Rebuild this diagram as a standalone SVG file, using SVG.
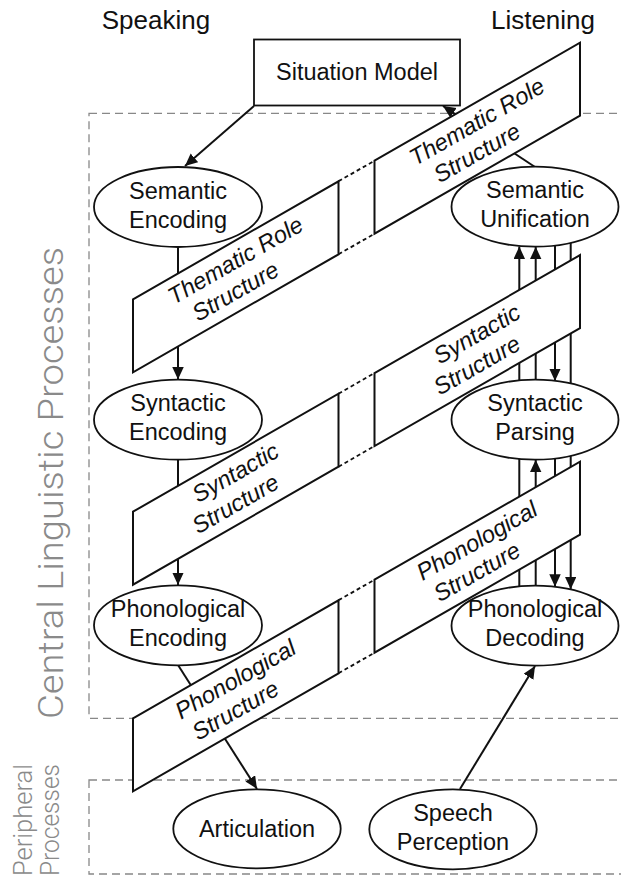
<svg xmlns="http://www.w3.org/2000/svg" width="621" height="880" viewBox="0 0 621 880">
<style>
.box{fill:none;stroke:#888;stroke-width:1.3;stroke-dasharray:8 5}
.side{font-family:Roboto,"Liberation Sans",Arial,sans-serif;font-weight:300;fill:#8a8a8a;text-anchor:middle}
.hdr{font-family:"Liberation Sans",Arial,sans-serif;font-size:26px;fill:#111}
.lbl{font-family:"Liberation Sans",Arial,sans-serif;font-size:23.5px;fill:#111;text-anchor:middle}
.blbl{font-family:"Liberation Sans",Arial,sans-serif;font-size:23.5px;font-style:italic;fill:#111;text-anchor:middle}
.node{fill:#fff;stroke:#111;stroke-width:1.8}
.band{fill:#fff;stroke:#111;stroke-width:2}
.gap{stroke:#111;stroke-width:1.8;stroke-dasharray:4 3;fill:none}
.arr{stroke:#111;stroke-width:2;fill:none;marker-end:url(#ah)}
</style>
<defs>
<marker id="ah" markerUnits="userSpaceOnUse" markerWidth="14" markerHeight="12" refX="12.5" refY="5.75" orient="auto">
<path d="M0,0 L12.5,5.75 L0,11.5 z" fill="#111"/>
</marker>
</defs>
<g id="regions">
<rect class="box" x="89" y="113.3" width="560" height="605"/>
<rect class="box" x="89" y="780" width="560" height="94"/>
<text class="side" font-size="35" textLength="472" lengthAdjust="spacingAndGlyphs" transform="translate(63,483) rotate(-90)">Central Linguistic Processes</text>
<text class="side" font-size="26" textLength="112" lengthAdjust="spacingAndGlyphs" transform="translate(32,820) rotate(-90)">Peripheral</text>
<text class="side" font-size="26" textLength="112" lengthAdjust="spacingAndGlyphs" transform="translate(59,820) rotate(-90)">Processes</text>
</g>
<g id="headers">
<text class="hdr" x="156" y="29" text-anchor="middle">Speaking</text>
<text class="hdr" x="543" y="29" text-anchor="middle">Listening</text>
</g>
<g id="connectors">
<line class="arr" x1="254" y1="106" x2="185" y2="166"/>
<line class="arr" x1="535" y1="167" x2="443" y2="106"/>
<line class="arr" x1="178" y1="247" x2="178" y2="379.5"/>
<line class="arr" x1="178" y1="460" x2="178" y2="585"/>
<line class="arr" x1="178" y1="665" x2="257" y2="789"/>
<line class="arr" x1="460" y1="789" x2="535" y2="666"/>
<line class="arr" x1="519.3" y1="586" x2="519.3" y2="246.5"/>
<line class="arr" x1="535.7" y1="586" x2="535.7" y2="459.7"/>
<line class="arr" x1="535.7" y1="380" x2="535.7" y2="246.7"/>
<line class="arr" x1="555" y1="245.5" x2="555" y2="381"/>
<line class="arr" x1="555" y1="458.5" x2="555" y2="586.7"/>
<line class="arr" x1="570.7" y1="243" x2="570.7" y2="589.3"/>
</g>
<g id="band-thematic">
<polygon class="band" points="133,299.3 338.5,181.3 338.5,254.3 133,372.3"/>
<polygon class="band" points="374.5,160.7 580,42.7 580,115.7 374.5,233.7"/>
<path class="gap" d="M338.5,181.3 L374.5,160.7 M338.5,254.3 L374.5,233.7"/>
<text class="blbl" transform="translate(235.75,276.8) rotate(-29.86)"><tspan x="8" y="-6.5">Thematic Role</tspan><tspan x="-7.5" y="20.5">Structure</tspan></text>
<text class="blbl" transform="translate(477.25,138.2) rotate(-29.86)"><tspan x="8" y="-6.5">Thematic Role</tspan><tspan x="-7.5" y="20.5">Structure</tspan></text>
</g>
<g id="band-syntactic">
<polygon class="band" points="133,511.7 338.5,393.7 338.5,466.7 133,584.7"/>
<polygon class="band" points="374.5,373.1 580,255.1 580,328.1 374.5,446.1"/>
<path class="gap" d="M338.5,393.7 L374.5,373.1 M338.5,466.7 L374.5,446.1"/>
<text class="blbl" transform="translate(235.75,489.2) rotate(-29.86)"><tspan x="8" y="-6.5">Syntactic</tspan><tspan x="-7.5" y="20.5">Structure</tspan></text>
<text class="blbl" transform="translate(477.25,350.6) rotate(-29.86)"><tspan x="8" y="-6.5">Syntactic</tspan><tspan x="-7.5" y="20.5">Structure</tspan></text>
</g>
<g id="band-phonological">
<polygon class="band" points="133,718.3 338.5,600.3 338.5,673.3 133,791.3"/>
<polygon class="band" points="374.5,579.7 580,461.7 580,534.7 374.5,652.7"/>
<path class="gap" d="M338.5,600.3 L374.5,579.7 M338.5,673.3 L374.5,652.7"/>
<text class="blbl" transform="translate(235.75,695.8) rotate(-29.86)"><tspan x="8" y="-6.5">Phonological</tspan><tspan x="-7.5" y="20.5">Structure</tspan></text>
<text class="blbl" transform="translate(477.25,557.2) rotate(-29.86)"><tspan x="8" y="-6.5">Phonological</tspan><tspan x="-7.5" y="20.5">Structure</tspan></text>
</g>
<g id="situation-model">
<rect class="node" x="254" y="39.5" width="206" height="66"/>
<text class="lbl" x="357" y="80">Situation Model</text>
</g>
<g id="semantic-encoding">
<ellipse class="node" cx="178" cy="207" rx="84" ry="40"/>
<text class="lbl" x="178" y="198.5">Semantic</text>
<text class="lbl" x="178" y="227.5">Encoding</text>
</g>
<g id="syntactic-encoding">
<ellipse class="node" cx="178" cy="419.7" rx="84" ry="40"/>
<text class="lbl" x="178" y="411">Syntactic</text>
<text class="lbl" x="178" y="440">Encoding</text>
</g>
<g id="phonological-encoding">
<ellipse class="node" cx="178" cy="625.3" rx="84" ry="40"/>
<text class="lbl" x="178" y="616.5">Phonological</text>
<text class="lbl" x="178" y="645.5">Encoding</text>
</g>
<g id="semantic-unification">
<ellipse class="node" cx="535" cy="206.7" rx="83.5" ry="40"/>
<text class="lbl" x="535" y="197.5">Semantic</text>
<text class="lbl" x="535" y="226.7">Unification</text>
</g>
<g id="syntactic-parsing">
<ellipse class="node" cx="535" cy="419.7" rx="83.5" ry="40"/>
<text class="lbl" x="535" y="411">Syntactic</text>
<text class="lbl" x="535" y="440">Parsing</text>
</g>
<g id="phonological-decoding">
<ellipse class="node" cx="535" cy="625.7" rx="83.5" ry="40"/>
<text class="lbl" x="535" y="617">Phonological</text>
<text class="lbl" x="535" y="646">Decoding</text>
</g>
<g id="articulation">
<ellipse class="node" cx="257" cy="828.8" rx="83.7" ry="39.5"/>
<text class="lbl" x="257" y="836.5">Articulation</text>
</g>
<g id="speech-perception">
<ellipse class="node" cx="453" cy="829.3" rx="83.7" ry="40"/>
<text class="lbl" x="453" y="821">Speech</text>
<text class="lbl" x="453" y="849.5">Perception</text>
</g>
</svg>
